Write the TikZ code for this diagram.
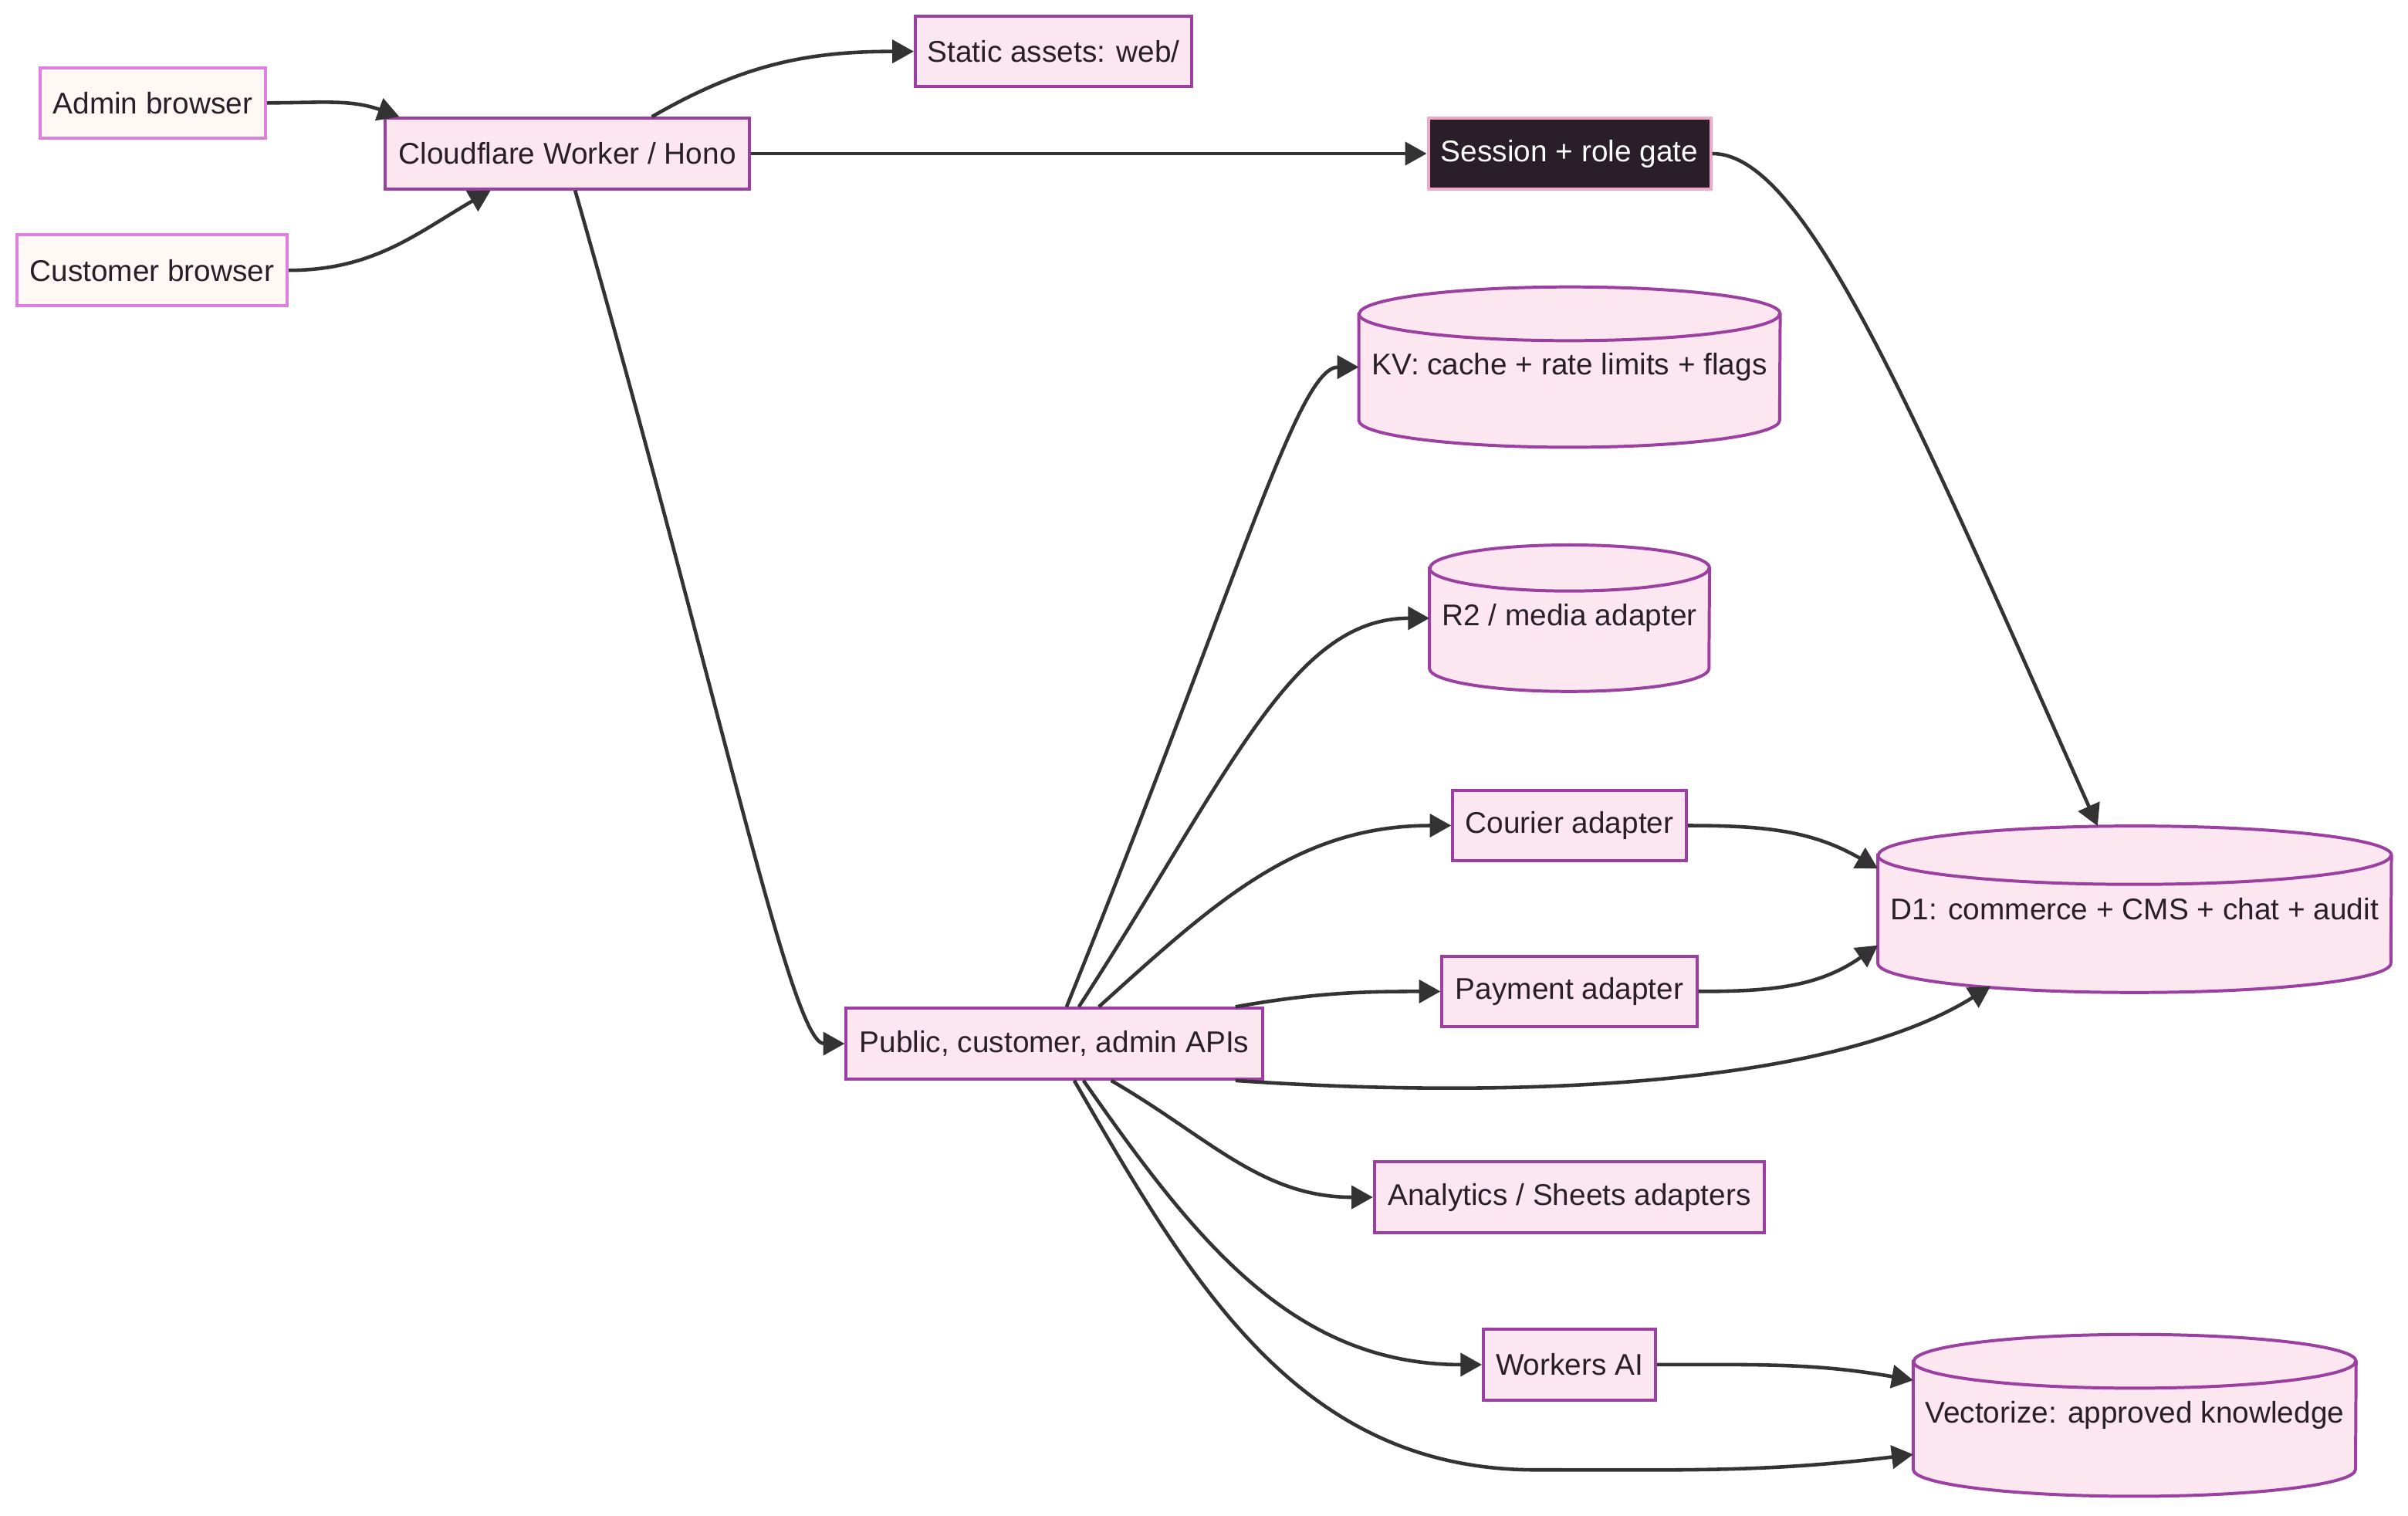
\documentclass[tikz,border=0pt]{standalone}
\usepackage{fontspec}
\setmainfont{Liberation Sans}
\usepackage{tikz}
\usetikzlibrary{positioning,arrows.meta,calc,backgrounds}
\definecolor{ink}    {HTML}{2A1F29}
\definecolor{plum}   {HTML}{9B3FA0}
\definecolor{blush}  {HTML}{FCE7F0}
\definecolor{orchid} {HTML}{DC82DC}
\definecolor{cream}  {HTML}{FFF8F4}
\definecolor{rose}   {HTML}{F0A8C8}
\definecolor{wire}   {HTML}{333333}
\tikzset{
  >={Triangle[length=14pt,width=15pt]},
  every node/.style={font=\fontsize{19.5}{23}\selectfont, text=ink},
  % --- nodes
  box/.style    = {draw=plum, fill=blush, line width=2pt, inner sep=2pt,
                   minimum height=46pt},
  client/.style = {box, draw=orchid, fill=cream},
  gate/.style   = {box, draw=rose, fill=ink, text=white},
  store/.style  = {inner sep=2pt},
  drum/.style   = {draw=plum, fill=blush, line width=2pt},
  % --- edges
  e/.style      = {->, line width=2.3pt, draw=wire},
}

\begin{document}
\begin{tikzpicture}[x=1pt,y=1pt]
  \useasboundingbox (0,0) rectangle (1568,-987);

  % clients and worker
  \node[client, minimum width=147pt] (admin)  at (99.5,-67)  {Admin browser};
  \node[client, minimum width=176pt] (cust)   at (99,-176)   {Customer browser};
  \node[box, minimum width=237pt]    (worker) at (369.5,-100) {Cloudflare Worker / Hono};
  \node[box, minimum width=180pt]    (web)    at (686,-33.5) {Static assets: web/};
  \node[gate, minimum width=184pt]   (gate)   at (1022,-100) {Session + role gate};
  \node[box, minimum width=271pt]    (api)    at (686.5,-679.5) {Public, customer, admin APIs};

  % adapters
  \node[box, minimum width=152pt] (courier) at (1022,-537.5) {Courier adapter};
  \node[box, minimum width=166pt] (pay)     at (1022,-645.5) {Payment adapter};
  \node[box, minimum width=254pt] (sheets)  at (1022,-779.5) {Analytics / Sheets adapters};
  \node[box, minimum width=112pt] (ai)      at (1022,-888.5) {Workers AI};

  % storage
  \node[store, minimum width=274pt, minimum height=104pt] (kv)  at (1022,-239)   {KV: cache + rate limits + flags};
  \node[store, minimum width=182pt, minimum height=95pt]  (r2)  at (1022,-402.5) {R2 / media adapter};
  \node[store, minimum width=334pt, minimum height=108pt] (d1)  at (1390,-592)   {D1: commerce + CMS + chat + audit};
  \node[store, minimum width=288pt, minimum height=105pt] (vec) at (1390,-921.5) {Vectorize: approved knowledge};

  \begin{pgfonlayer}{background}
    \foreach \n/\rx/\ry in {kv/137/17.5, r2/91/15, d1/167/19, vec/144/17.5}{
      \draw[drum] ([yshift=-\ry]\n.north west) -- ([yshift=\ry]\n.south west)
        arc[start angle=180, end angle=360, x radius=\rx, y radius=\ry]
        -- ([yshift=-\ry]\n.north east)
        arc[start angle=0, end angle=180, x radius=\rx, y radius=\ry] -- cycle;
      \draw[drum, fill=none] ([yshift=-\ry]\n.north west)
        arc[start angle=180, end angle=360, x radius=\rx, y radius=\ry];
    }
  \end{pgfonlayer}

  % requests in
  \draw[e] (admin.east) to[out=0,in=160] ([xshift=10pt]worker.north west);
  \draw[e] (cust.east) to[out=0,in=-150] ([xshift=-50pt]worker.south);

  % worker fan-out
  \draw[e] ([xshift=55pt]worker.north) to[out=30,in=180] (web.west);
  \draw[e] (worker) -- (gate);
  \draw[e] ([xshift=5pt]worker.south) to[out=-74,in=180,out distance=340pt,in distance=35pt] (api.west);
  \draw[e] (gate.east) to[out=0,in=114,out distance=60pt,in distance=300pt] (d1.114);

  % api fan-out
  \draw[e] ([xshift=8pt]api.north) to[out=68,in=180,out distance=300pt,in distance=40pt] (kv.west);
  \draw[e] ([xshift=16pt]api.north) to[out=57,in=180,out distance=180pt,in distance=90pt] (r2.west);
  \draw[e] ([xshift=29pt]api.north) to[out=42,in=180] (courier.west);
  \draw[e] ([xshift=118pt]api.north) to[out=10,in=180] (pay.west);
  \draw[e] ([xshift=118pt]api.south) to[out=-4,in=-148,out distance=160pt,in distance=130pt] ([yshift=4pt]d1.210);
  \draw[e] ([xshift=37pt]api.south) to[out=-30,in=180] (sheets.west);
  \draw[e] ([xshift=19pt]api.south) to[out=-55,in=180] (ai.west);
  \draw[e] ([xshift=13pt]api.south) to[out=-60,in=180] (1000,-957) to[out=0,in=187] (vec.190);

  % adapters into stores
  \draw[e] (courier.east) to[out=0,in=150] (d1.171);
  \draw[e] (pay.east) to[out=0,in=-145] (d1.188);
  \draw[e] (ai.east) to[out=0,in=170] (vec.171);
\end{tikzpicture}
\end{document}
